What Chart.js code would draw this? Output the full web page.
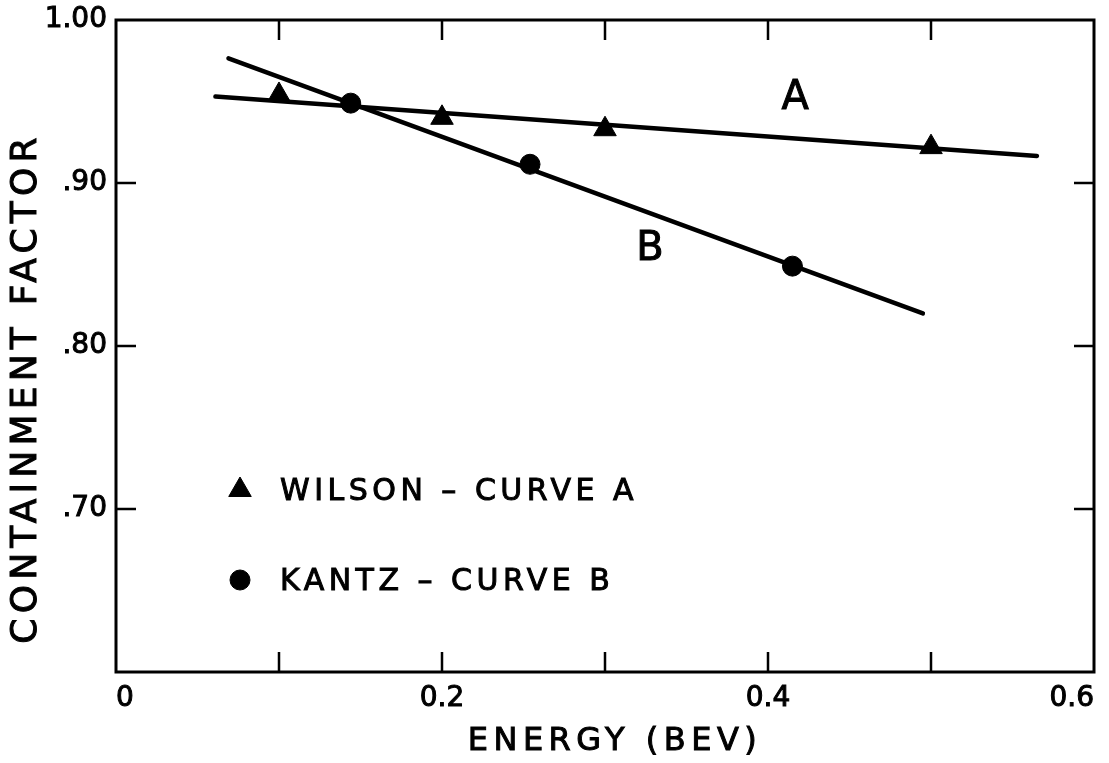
<!doctype html>
<html lang="en">
<head>
    <meta charset="UTF-8">
    <title>Containment Factor vs Energy</title>
    <script src="https://cdn.jsdelivr.net/npm/chart.js"></script>
    <style>
        body { margin: 0; background: #fff; }
    </style>
</head>
<body>
    <canvas id="cfChart" width="1109" height="763"></canvas>
    <script>
        // Wilson measurements (curve A)
        const wilsonEnergy = [0.1, 0.2, 0.3, 0.5];
        const wilsonFactor = [0.954, 0.940, 0.933, 0.922];

        // Kantz measurements (curve B)
        const kantzEnergy = [0.144, 0.254, 0.415];
        const kantzFactor = [0.949, 0.9115, 0.849];

        // straight lines drawn through each set
        const curveAEnergy = [0.061, 0.565];
        const curveAFactor = [0.953, 0.9166];
        const curveBEnergy = [0.069, 0.495];
        const curveBFactor = [0.9765, 0.820];

        // letters written next to the lines
        const curveNames = ['A', 'B'];
        const curveNameEnergy = [0.4166, 0.3276];
        const curveNameFactor = [0.9515, 0.8589];

        const legendLabels = ['WILSON – CURVE A', 'KANTZ – CURVE B'];
        const xTickValues = [0, 0.1, 0.2, 0.3, 0.4, 0.5, 0.6];
        const xTickLabels = ['0', '', '0.2', '', '0.4', '', '0.6'];
        const yTickValues = [0.6, 0.7, 0.8, 0.9, 1.0];
        const yTickLabels = ['', '.70', '.80', '.90', '1.00'];

        const FONT = 'DejaVu Sans';
        const INK = '#000';

        function pts(xs, ys) {
            return xs.map((x, i) => ({ x: x, y: ys[i] }));
        }

        // fill + thin outline, the lettering guide pen is a bit heavier than the font
        function inkText(c, t, x, y) {
            c.strokeText(t, x, y);
            c.fillText(t, x, y);
        }

        // spread out the title letters and nudge them like the lettering guide did
        function spacedTitle(scale, spacing, dx, dy) {
            if (scale._spaced) return;
            scale._spaced = true;
            const orig = scale.drawTitle;
            const proto = CanvasRenderingContext2D.prototype;
            scale.drawTitle = function () {
                const c = this.ctx;
                c.save();
                c.letterSpacing = spacing + 'px';
                c.lineWidth = 1;
                c.strokeStyle = INK;
                c.fillText = function (t, x, y) {
                    proto.strokeText.call(c, t, x, y);
                    proto.fillText.call(c, t, x, y);
                };
                c.translate(dx, dy);
                orig.call(this);
                delete c.fillText;
                c.restore();
            };
        }

        // box frame with inward tick marks
        const framePlugin = {
            id: 'frame',
            beforeDatasetsDraw(chart) {
                const { ctx, chartArea: a, scales } = chart;
                const len = 20;
                ctx.save();
                ctx.strokeStyle = INK;
                ctx.lineWidth = 3;
                ctx.strokeRect(a.left, a.top, a.right - a.left, a.bottom - a.top);
                ctx.lineWidth = 2.5;
                ctx.beginPath();
                scales.x.ticks.slice(1, -1).forEach(t => {
                    const px = scales.x.getPixelForValue(t.value);
                    ctx.moveTo(px, a.bottom); ctx.lineTo(px, a.bottom - len);
                    ctx.moveTo(px, a.top); ctx.lineTo(px, a.top + len);
                });
                scales.y.ticks.slice(1, -1).forEach(t => {
                    const py = scales.y.getPixelForValue(t.value);
                    ctx.moveTo(a.left, py); ctx.lineTo(a.left + len, py);
                    ctx.moveTo(a.right, py); ctx.lineTo(a.right - len, py);
                });
                ctx.stroke();
                ctx.restore();
            }
        };

        // legend inside the plot and the A / B letters
        const notesPlugin = {
            id: 'notes',
            afterDraw(chart) {
                const { ctx, chartArea: a, scales } = chart;
                ctx.save();
                ctx.fillStyle = INK;
                ctx.strokeStyle = INK;
                ctx.lineWidth = 1;
                ctx.textBaseline = 'middle';

                ctx.font = '40px "' + FONT + '"';
                ctx.textAlign = 'center';
                curveNames.forEach((n, i) => {
                    inkText(ctx, n, scales.x.getPixelForValue(curveNameEnergy[i]),
                        scales.y.getPixelForValue(curveNameFactor[i]));
                });

                ctx.font = '30px "' + FONT + '"';
                ctx.textAlign = 'left';
                ctx.letterSpacing = '4.5px';
                const marks = chart.data.datasets.filter(d => legendLabels.includes(d.label));
                marks.forEach((ds, i) => {
                    const mx = a.left + 124;
                    const my = a.top + 470 + i * 90;
                    Chart.helpers.drawPoint(ctx, {
                        pointStyle: ds.pointStyle,
                        radius: ds.pointRadius,
                        borderWidth: 1,
                        rotation: 0
                    }, mx, my);
                    inkText(ctx, ds.label, mx + 40, my + 2);
                });
                ctx.restore();
            }
        };

        const ctx = document.getElementById('cfChart').getContext('2d');
        new Chart(ctx, {
            type: 'scatter',
            data: {
                datasets: [
                    {
                        label: 'curve A',
                        data: pts(curveAEnergy, curveAFactor),
                        showLine: true,
                        borderColor: INK,
                        borderWidth: 4.5,
                        borderCapStyle: 'round',
                        pointRadius: 0
                    },
                    {
                        label: 'curve B',
                        data: pts(curveBEnergy, curveBFactor),
                        showLine: true,
                        borderColor: INK,
                        borderWidth: 4.5,
                        borderCapStyle: 'round',
                        pointRadius: 0
                    },
                    {
                        label: legendLabels[0],
                        data: pts(wilsonEnergy, wilsonFactor),
                        pointStyle: 'triangle',
                        pointRadius: 13,
                        backgroundColor: INK,
                        borderColor: INK,
                        borderWidth: 1
                    },
                    {
                        label: legendLabels[1],
                        data: pts(kantzEnergy, kantzFactor),
                        pointStyle: 'circle',
                        pointRadius: 10,
                        backgroundColor: INK,
                        borderColor: INK,
                        borderWidth: 1
                    }
                ]
            },
            options: {
                responsive: false,
                animation: false,
                layout: { padding: { top: 20, right: 15, left: 0, bottom: 0 } },
                plugins: {
                    legend: { display: false },
                    tooltip: { enabled: false }
                },
                scales: {
                    x: {
                        type: 'linear',
                        min: 0,
                        max: 0.6,
                        afterBuildTicks: s => { s.ticks = xTickValues.map(v => ({ value: v })); },
                        afterFit: s => {
                            s.height = 91;
                            s.paddingLeft = 0;
                            s.paddingRight = 0;
                            spacedTitle(s, 5.5, 10, 0);
                        },
                        grid: { display: false, drawTicks: false },
                        border: { display: false },
                        ticks: {
                            callback: (v, i) => xTickLabels[i],
                            align: 'inner',
                            autoSkip: false,
                            maxRotation: 0,
                            padding: 10,
                            color: INK,
                            textStrokeColor: INK,
                            textStrokeWidth: 1,
                            font: { family: FONT, size: 28 }
                        },
                        title: {
                            display: true,
                            text: 'ENERGY (BEV)',
                            color: INK,
                            padding: { top: 0, bottom: 2 },
                            font: { family: FONT, size: 32 }
                        }
                    },
                    y: {
                        type: 'linear',
                        min: 0.6,
                        max: 1.0,
                        afterBuildTicks: s => { s.ticks = yTickValues.map(v => ({ value: v })); },
                        afterFit: s => {
                            s.width = 116;
                            s.paddingTop = 0;
                            s.paddingBottom = 0;
                            spacedTitle(s, 5.2, 0, 42);
                        },
                        grid: { display: false, drawTicks: false },
                        border: { display: false },
                        ticks: {
                            callback: (v, i) => yTickLabels[i],
                            autoSkip: false,
                            padding: 9,
                            color: INK,
                            textStrokeColor: INK,
                            textStrokeWidth: 1,
                            font: { family: FONT, size: 28 }
                        },
                        title: {
                            display: true,
                            text: 'CONTAINMENT FACTOR',
                            color: INK,
                            padding: { top: 5, bottom: 0 },
                            font: { family: FONT, size: 36 }
                        }
                    }
                }
            },
            plugins: [framePlugin, notesPlugin]
        });
    </script>
</body>
</html>
